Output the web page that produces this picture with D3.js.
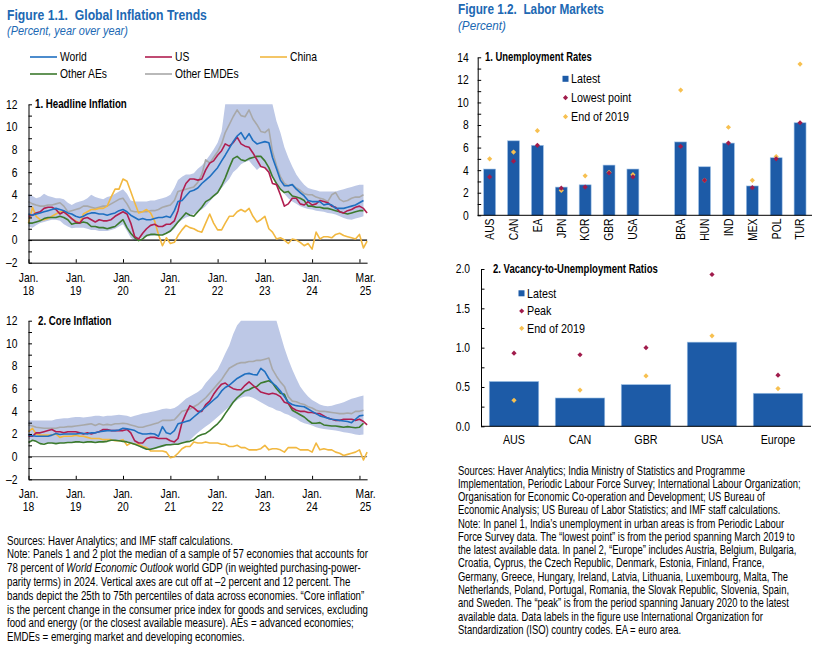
<!DOCTYPE html>
<html>
<head>
<meta charset="utf-8">
<script src="https://cdn.jsdelivr.net/npm/d3@7"></script>
<style>
  body { margin: 0; background: #fff; }
  svg { font-family: "Liberation Sans Narrow", "Arial Narrow", "Liberation Sans", Arial, sans-serif; }
</style>
</head>
<body>
<svg width="825" height="651"></svg>
<script>
// ---------- data: Figure 1.1 (monthly, Jan 2018 - Mar 2025) ----------
var months = d3.timeMonth.range(new Date(2018, 0, 1), new Date(2025, 3, 1));

var headWorld = [2.3,2.2,2.3,2.4,2.5,2.6,2.7,2.8,2.7,2.6,2.4,2.3,
                 2.1,2.0,2.1,2.3,2.4,2.4,2.3,2.3,2.2,2.3,2.4,2.6,
                 2.7,2.5,2.2,2.0,1.8,1.9,1.8,1.8,1.9,2.0,2.0,2.1,
                 2.0,2.6,3.4,3.5,3.9,4.3,4.4,4.6,5.0,5.3,5.6,6.0,
                 6.4,7.0,7.5,8.1,8.7,9.2,9.5,8.9,9.4,8.8,8.5,8.6,
                 8.7,8.6,7.3,6.3,5.3,4.8,4.8,4.9,4.5,4.2,3.9,3.5,
                 3.4,3.4,3.4,3.1,3.2,3.1,2.8,2.8,2.8,2.9,3.0,3.1,
                 3.3,3.5];
var headUS = [2.1,2.2,2.4,2.5,2.8,2.9,2.9,2.7,2.3,2.5,2.2,1.9,
              1.6,1.5,1.9,2.0,1.8,1.6,1.8,1.7,1.7,1.8,2.1,2.3,
              2.5,2.3,1.5,0.3,0.1,0.6,1.0,1.3,1.4,1.2,1.2,1.4,
              1.4,1.7,2.6,4.2,5.0,5.4,5.4,5.3,5.4,6.2,6.8,7.0,
              7.5,7.9,8.5,8.3,8.6,9.1,8.5,8.3,8.2,7.7,7.1,6.5,
              6.4,6.0,5.0,4.9,4.0,3.0,3.2,3.7,3.7,3.2,3.1,3.4,
              3.1,3.2,3.5,3.4,3.3,3.0,2.9,2.5,2.4,2.6,2.7,2.9,
              3.0,2.8,2.4];
var headChina = [1.5,2.9,2.1,1.8,1.8,1.9,2.1,2.3,2.5,2.5,2.2,1.9,
                 1.7,1.5,2.3,2.5,2.7,2.7,2.8,2.8,3.0,3.8,4.5,4.5,
                 5.4,5.2,4.3,3.3,2.4,2.5,2.7,2.4,1.7,0.5,-0.5,0.2,
                 -0.3,-0.2,0.4,0.9,1.3,1.1,1.0,0.8,0.7,1.5,2.3,1.5,
                 0.9,0.9,1.5,2.1,2.1,2.5,2.7,2.5,2.8,2.1,1.6,1.8,
                 2.1,1.0,0.7,0.1,0.2,0.0,-0.3,0.1,0.0,-0.2,-0.5,-0.3,
                 -0.8,0.7,0.1,0.3,0.3,0.2,0.5,0.6,0.4,0.3,0.2,0.1,
                 0.5,-0.7,-0.1];
var headAEs = [1.5,1.5,1.6,1.7,1.9,2.0,2.0,2.0,2.1,2.0,1.8,1.4,
               1.5,1.5,1.6,1.5,1.2,1.2,1.1,1.1,1.0,1.1,1.2,1.5,
               1.8,1.1,0.6,0.2,-0.05,0.1,0.4,0.5,0.5,0.45,0.45,0.6,
               0.8,1.2,1.6,2.0,2.4,2.2,2.1,2.5,2.9,3.4,3.6,3.9,
               4.2,4.8,5.5,6.4,7.2,7.4,7.1,7.0,7.2,7.3,7.4,7.4,
               7.0,6.4,5.6,5.0,4.5,4.2,4.3,3.9,3.8,3.7,3.5,3.0,
               3.0,2.9,2.9,2.8,2.8,2.7,2.6,2.5,2.4,2.3,2.4,2.5,
               2.6,2.6];
var headEMDEs = [3.4,3.2,3.1,3.0,3.0,3.1,3.1,3.2,3.3,3.0,2.5,2.6,
                 2.7,2.8,3.0,3.0,2.9,2.8,2.9,3.0,3.0,3.2,3.4,3.6,
                 3.7,3.2,2.6,2.5,2.5,2.5,2.5,2.6,2.6,2.7,2.9,3.0,
                 3.1,3.5,4.3,4.4,4.5,4.6,4.7,5.1,5.8,7.1,6.8,7.3,
                 7.8,8.5,9.5,10.2,10.9,11.5,11.0,10.9,11.5,10.7,10.2,9.6,
                 9.5,9.8,7.8,6.6,5.6,5.0,4.8,4.9,4.6,4.4,4.1,4.0,
                 4.0,3.8,3.7,3.6,3.4,4.0,4.2,3.6,3.4,3.5,3.7,3.8,
                 3.8,4.0];
var headLow = [1.2,1.1,1.3,1.5,1.6,1.7,1.8,1.8,1.7,1.4,1.2,1.05,
               1.1,1.1,1.1,1.0,0.9,0.9,0.8,0.8,0.8,0.9,1.0,1.2,
               1.4,0.8,0.2,-0.05,0.05,0.25,0.3,0.35,0.4,0.45,0.5,0.6,
               0.7,1.0,1.5,1.8,2.0,2.1,2.3,2.5,2.7,3.0,3.4,3.8,
               4.1,4.6,5.0,5.4,6.0,6.3,6.7,6.9,7.0,6.6,6.2,6.5,
               6.4,6.0,5.5,5.0,4.5,4.1,3.7,3.4,3.2,3.0,2.85,2.75,
               2.7,2.6,2.55,2.5,2.4,2.35,2.25,2.1,1.95,1.85,1.8,1.9,
               2.0,2.1];
var headHigh = [4.1,3.9,3.7,3.8,4.1,3.9,3.8,3.7,3.7,3.6,3.3,3.1,
                3.3,3.4,3.5,3.7,4.0,3.8,3.7,3.6,3.8,3.9,4.1,4.3,
                4.5,4.1,3.5,3.4,3.4,3.4,3.4,3.5,3.5,3.6,3.7,3.8,
                4.0,4.6,5.3,5.6,5.8,5.8,5.9,6.3,6.6,7.0,7.5,8.0,
                8.6,9.6,12,12,12,12,12,12,12,12,12,12,
                12,12,12,10.5,9.5,8.2,7.3,6.5,5.8,5.3,4.9,4.6,
                4.5,4.4,4.3,4.3,4.3,4.3,4.3,4.4,4.5,4.6,4.7,4.8,
                4.9,4.9];

var coreWorld = [1.9,1.85,1.8,1.8,1.8,1.8,1.9,2.05,1.95,2.0,2.0,2.0,
                 2.0,2.05,2.05,2.0,2.1,2.1,2.2,2.25,2.3,2.3,2.3,2.35,
                 2.5,2.45,2.4,2.3,2.1,2.0,2.0,2.05,2.0,1.8,2.65,2.1,
                 2.0,2.3,2.9,3.0,3.1,3.2,3.5,3.8,4.1,4.4,4.7,5.0,
                 5.3,5.8,6.1,6.3,6.6,6.9,7.1,7.3,7.35,7.25,7.2,7.8,
                 7.5,6.9,6.5,6.2,5.8,5.3,4.8,4.6,4.5,4.45,4.4,4.2,
                 4.0,3.8,3.6,3.5,3.4,3.3,3.25,3.2,3.15,3.1,3.0,3.3,
                 3.6,3.65];
var coreUS = [1.8,1.8,2.1,2.1,2.2,2.3,2.4,2.2,2.2,2.1,2.2,2.2,
              2.2,2.1,2.0,2.1,2.0,2.1,2.2,2.4,2.4,2.3,2.3,2.3,
              2.3,2.4,2.1,1.4,1.2,1.2,1.6,1.7,1.7,1.6,1.6,1.6,
              1.4,1.3,1.6,3.0,3.8,4.5,4.3,4.0,4.0,4.6,4.9,5.5,
              6.0,6.4,6.5,6.2,6.0,5.9,5.9,6.3,6.6,6.3,6.0,5.7,
              5.6,5.5,5.6,5.5,5.3,4.8,4.7,4.3,4.1,4.0,4.0,3.9,
              3.9,3.8,3.8,3.6,3.4,3.3,3.2,3.2,3.3,3.3,3.3,3.2,
              3.3,3.1,2.8];
var coreChina = [2.2,2.5,2.0,1.9,1.9,1.9,1.9,2.0,1.7,1.8,1.8,1.8,
                 1.9,1.8,1.8,1.7,1.6,1.6,1.6,1.5,1.5,1.5,1.4,1.4,
                 1.5,1.0,1.2,1.1,1.1,0.9,0.8,0.5,0.5,0.5,0.5,0.4,
                 -0.1,0.0,0.3,0.7,0.9,0.9,1.3,1.2,1.2,1.3,1.2,1.2,
                 1.2,1.1,1.1,0.9,0.9,1.0,0.8,0.8,0.6,0.6,0.6,0.7,
                 1.0,0.6,0.7,0.7,0.6,0.4,0.8,0.8,0.8,0.6,0.6,0.6,
                 0.4,1.2,0.6,0.7,0.6,0.6,0.4,0.3,0.1,0.2,0.3,0.4,
                 0.6,-0.3,0.4];
var coreAEs = [1.25,1.45,1.35,1.15,1.1,1.2,1.2,1.15,1.2,1.2,1.25,1.25,
               1.3,1.3,1.25,1.3,1.3,1.25,1.3,1.3,1.35,1.45,1.45,1.4,
               1.35,1.3,1.2,1.1,0.95,0.8,0.65,0.65,0.75,0.85,0.95,1.05,
               1.05,1.1,1.1,1.2,1.3,1.35,1.5,1.8,1.95,2.05,2.3,2.6,
               2.9,3.3,3.8,4.3,4.8,5.2,5.5,5.8,5.9,6.1,6.2,6.5,
               6.6,6.7,6.5,6.0,5.6,5.5,4.7,4.1,3.9,3.7,3.5,3.2,
               2.95,2.95,3.0,2.8,2.75,2.7,2.7,2.65,2.6,2.65,2.6,2.55,
               2.6,2.95];
var coreEMDEs = [2.8,2.7,2.6,2.55,2.5,2.5,2.5,2.5,2.6,2.6,2.65,2.65,
                 2.7,2.75,2.8,2.85,2.9,2.75,2.9,2.8,2.85,2.8,2.9,2.9,
                 2.95,2.9,2.8,2.7,2.6,2.6,2.7,2.8,2.9,3.0,3.2,3.2,
                 3.2,3.25,3.6,4.0,4.1,4.2,4.4,4.6,4.9,5.2,5.6,6.0,
                 6.4,6.8,7.3,7.8,8.0,8.2,8.3,8.3,8.4,8.4,8.5,8.5,
                 8.6,8.7,7.7,7.1,6.6,6.2,5.3,4.9,4.85,4.7,4.6,4.4,
                 4.3,4.1,4.0,4.0,3.95,3.9,3.85,3.8,3.8,3.85,3.8,4.0,
                 4.0,4.1];
var coreLow = [1.6,1.4,1.3,1.2,1.2,1.15,1.2,1.2,1.2,1.2,1.2,1.2,
               1.25,1.25,1.3,1.3,1.3,1.3,1.3,1.35,1.35,1.4,1.45,1.4,
               1.4,1.35,1.25,1.1,0.9,0.7,0.6,0.6,0.65,0.75,0.85,0.95,
               1.0,1.05,1.1,1.2,1.3,1.45,1.8,2.1,2.4,2.65,2.9,3.2,
               3.5,3.8,4.1,4.4,4.7,5.0,5.2,5.3,5.3,5.2,5.0,4.8,
               4.6,4.4,4.3,4.1,4.0,3.8,3.7,3.5,3.35,3.1,2.95,2.85,
               2.75,2.6,2.5,2.45,2.4,2.35,2.3,2.25,2.15,2.1,2.05,1.95,
               1.9,1.95];
var coreHigh = [3.2,3.2,3.2,3.2,3.2,3.2,3.2,3.3,3.35,3.4,3.4,3.45,
                3.5,3.5,3.45,3.5,3.55,3.6,3.6,3.55,3.6,3.6,3.65,3.7,
                3.65,3.6,3.5,3.6,3.7,3.8,3.85,3.95,4.0,4.1,4.2,4.25,
                4.2,4.3,4.5,4.8,5.1,5.3,5.5,5.7,6.0,6.5,6.9,7.3,
                7.7,8.4,9.1,9.8,10.8,11.6,12,12,12,12,12,12,
                12,12,12,12,10.8,9.6,8.6,7.7,6.9,6.2,5.7,5.3,
                5.0,4.8,4.6,4.5,4.45,4.5,4.6,4.7,4.8,4.95,5.1,5.2,
                5.3,5.4];

var seriesNames  = ["World", "US", "China", "Other AEs", "Other EMDEs"];
var seriesColors = ["#1f6fc0", "#b01e50", "#f2b840", "#3c7a2e", "#a8a8a8"];

var xTickDates  = d3.range(2018, 2026).map(function(yr) { return new Date(yr, 0, 1); });
var xLabelDates = d3.range(2018, 2025).map(function(yr) { return new Date(yr, 0, 1); }).concat([new Date(2025, 2, 1)]);
var xLabelTop   = ["Jan.", "Jan.", "Jan.", "Jan.", "Jan.", "Jan.", "Jan.", "Mar."];
var xLabelBot   = ["18", "19", "20", "21", "22", "23", "24", "25"];

// ---------- data: Figure 1.2 ----------
var unempAdvanced = ["AUS", "CAN", "EA", "JPN", "KOR", "GBR", "USA"];
var unempEmerging = ["BRA", "HUN", "IND", "MEX", "POL", "TUR"];
var unempLatest = [4.1, 6.6, 6.2, 2.5, 2.7, 4.45, 4.1, 6.5, 4.3, 6.4, 2.6, 5.1, 8.2];
var unempLowest = [3.4, 4.8, 6.2, 2.4, 2.5, 3.75, 3.4, 6.1, 3.1, 6.4, 2.45, 5.0, 8.2];
var unempEnd2019 = [5.0, 5.6, 7.5, 2.2, 3.5, 3.8, 3.6, 11.1, 3.1, 7.8, 3.1, 5.2, 13.4];

var vuCountries = ["AUS", "CAN", "GBR", "USA", "Europe"];
var vuLatest  = [0.57, 0.36, 0.53, 1.07, 0.42];
var vuPeak    = [0.93, 0.91, 1.0, 1.93, 0.65];
var vuEnd2019 = [0.33, 0.46, 0.64, 1.15, 0.48];

var titleBlue = "#2068b3";
var barBlue = "#1d5ba7";
var peakRed = "#a01c4c";
var gold = "#f7c050";
var bandFill = "#bdc8e6";
var narrow = 0.86;   // no condensed font installed, so squeeze the regular one

var svg = d3.select("svg");
var dash = function(v) { return String(v).replace("-", "\u2013"); };

// squeeze a text horizontally around its own x
function squeeze(node, s) {
  var x0 = +node.getAttribute("x") || 0;
  node.setAttribute("transform", "translate(" + x0 + ",0) scale(" + s + ",1) translate(" + (-x0) + ",0)");
  node.classList.add("fitted");
}
function fit(sel, target) {
  squeeze(sel.node(), target / sel.node().getComputedTextLength());
  return sel;
}

// ---------- titles ----------
fit(svg.append("text").attr("x", 7).attr("y", 20)
  .attr("font-size", 14.5).attr("font-weight", "bold").attr("fill", titleBlue)
  .text("Figure 1.1.\u00a0\u00a0Global Inflation Trends"), 200);
fit(svg.append("text").attr("x", 7).attr("y", 35)
  .attr("font-size", 12.5).attr("font-style", "italic").attr("fill", titleBlue)
  .text("(Percent, year over year)"), 121);
fit(svg.append("text").attr("x", 458).attr("y", 14)
  .attr("font-size", 14.5).attr("font-weight", "bold").attr("fill", titleBlue)
  .text("Figure 1.2.\u00a0\u00a0Labor Markets"), 146);
fit(svg.append("text").attr("x", 458).attr("y", 30)
  .attr("font-size", 12.5).attr("font-style", "italic").attr("fill", titleBlue)
  .text("(Percent)"), 48);

// ---------- legend for figure 1.1 ----------
var legPos = [[30, 57], [145, 57], [260, 57], [30, 74], [145, 74]];
seriesNames.forEach(function(name, i) {
  var g = svg.append("g").attr("transform", "translate(" + legPos[i] + ")");
  g.append("line").attr("x1", 0).attr("x2", 27).attr("stroke", seriesColors[i]).attr("stroke-width", 1.6);
  g.append("text").attr("x", 30).attr("y", 4).attr("font-size", 12).text(name);
});

// ---------- inflation panels ----------
var x = d3.scaleTime()
  .domain([new Date(2018, 0, 1), new Date(2025, 2, 1)])
  .range([28.5, 367.1]);

function inflationPanel(yTop, yBot, title, titleX, titleW, low, high, world, us, china, aes, emdes, zeroColor) {
  var y = d3.scaleLinear().domain([-2, 12]).range([yBot, yTop]);
  var g = svg.append("g");

  var band = d3.area()
    .x(function(d, i) { return x(months[i]); })
    .y0(function(d, i) { return y(low[i]); })
    .y1(function(d) { return y(d); });
  g.append("path").datum(high).attr("d", band).attr("fill", bandFill);

  g.append("line").attr("x1", x.range()[0]).attr("x2", x.range()[1])
    .attr("y1", y(0)).attr("y2", y(0)).attr("stroke", zeroColor).attr("stroke-width", 1.3);

  var line = d3.line()
    .x(function(d, i) { return x(months[i]); })
    .y(function(d) { return y(d); });
  var order = [[emdes, 4], [china, 2], [aes, 3], [us, 1], [world, 0]];
  order.forEach(function(s) {
    g.append("path").datum(s[0]).attr("d", line).attr("fill", "none")
      .attr("stroke", seriesColors[s[1]]).attr("stroke-width", 1.6)
      .attr("stroke-linejoin", "round");
  });

  var yAxis = d3.axisLeft(y).tickValues(d3.range(-2, 13, 1))
    .tickFormat(function(d) { return d % 2 === 0 ? dash(d) : ""; })
    .tickSizeInner(-3.5).tickSizeOuter(0).tickPadding(11);
  var ya = g.append("g").attr("transform", "translate(" + x.range()[0] + ",0)").call(yAxis);
  ya.selectAll("text").attr("font-size", 12).attr("fill", "#000");
  ya.selectAll("line, path").attr("stroke", "#000");

  var xAxis = d3.axisBottom(x).tickValues(xTickDates).tickFormat("")
    .tickSizeInner(-3.5).tickSizeOuter(0);
  var xa = g.append("g").attr("transform", "translate(0," + yBot + ")").call(xAxis);
  xa.selectAll("line, path").attr("stroke", "#000");

  var lab = g.selectAll(".xl").data(xLabelDates).enter().append("text")
    .attr("text-anchor", "middle").attr("font-size", 12)
    .attr("x", function(d, i) { return x(d) - (i === 7 ? 1.5 : 0); });
  lab.append("tspan").attr("y", yBot + 19).text(function(d, i) { return xLabelTop[i]; });
  lab.append("tspan").attr("x", function(d, i) { return x(d) - (i === 7 ? 1.5 : 0); })
    .attr("y", yBot + 32).text(function(d, i) { return xLabelBot[i]; });

  fit(g.append("text").attr("x", titleX).attr("y", yTop + 4).attr("font-size", 12)
    .attr("font-weight", "bold").text(title), titleW);
}

inflationPanel(104.3, 262.7, "1. Headline Inflation", 35, 92, headLow, headHigh,
  headWorld, headUS, headChina, headAEs, headEMDEs, "#000");
inflationPanel(320.7, 479.3, "2. Core Inflation", 38, 73.5, coreLow, coreHigh,
  coreWorld, coreUS, coreChina, coreAEs, coreEMDEs, "#7f7f7f");

// ---------- diamond marker ----------
function diamond(r) { return "M0," + (-r) + "L" + r + ",0L0," + r + "L" + (-r) + ",0Z"; }

// ---------- panel 1: unemployment rates ----------
(function() {
  var cats = unempAdvanced.concat(["gap"], unempEmerging);
  var rows = unempAdvanced.concat(unempEmerging).map(function(c, i) {
    return { c: c, latest: unempLatest[i], low: unempLowest[i], e19: unempEnd2019[i] };
  });
  var xb = d3.scaleBand().domain(cats).range([477.7, 812]).paddingInner(0.5).paddingOuter(0.25);
  var y = d3.scaleLinear().domain([0, 14]).range([215.3, 57.3]);
  var g = svg.append("g");

  g.selectAll(".bar").data(rows).enter().append("rect")
    .attr("x", function(d) { return xb(d.c); }).attr("width", xb.bandwidth())
    .attr("y", function(d) { return y(d.latest); })
    .attr("height", function(d) { return y(0) - y(d.latest); })
    .attr("fill", barBlue).attr("stroke", "#9fc2e6").attr("stroke-width", 0.6);

  g.selectAll(".e19").data(rows).enter().append("path").attr("d", diamond(2.6))
    .attr("transform", function(d) { return "translate(" + (xb(d.c) + xb.bandwidth() / 2) + "," + y(d.e19) + ")"; })
    .attr("fill", gold);
  g.selectAll(".low").data(rows).enter().append("path").attr("d", diamond(2.6))
    .attr("transform", function(d) { return "translate(" + (xb(d.c) + xb.bandwidth() / 2) + "," + y(d.low) + ")"; })
    .attr("fill", peakRed);

  var yAxis = d3.axisLeft(y).tickValues(d3.range(0, 15, 1))
    .tickFormat(function(d) { return d % 2 === 0 ? d : ""; })
    .tickSizeInner(-3.5).tickSizeOuter(0).tickPadding(9);
  var ya = g.append("g").attr("transform", "translate(477.7,0)").call(yAxis);
  ya.selectAll("text").attr("font-size", 12).attr("fill", "#000");
  ya.selectAll("line, path").attr("stroke", "#000");

  g.append("line").attr("x1", 477.7).attr("x2", 812).attr("y1", y(0)).attr("y2", y(0)).attr("stroke", "#000");

  g.selectAll(".xl").data(rows).enter().append("text").attr("class", "rot")
    .attr("transform", function(d) {
      return "translate(" + (xb(d.c) + xb.bandwidth() / 2) + ",218.5) rotate(-90) scale(" + narrow + ",1)";
    })
    .attr("text-anchor", "end").attr("dy", "0.36em").attr("font-size", 12).text(function(d) { return d.c; });

  fit(g.append("text").attr("x", 485).attr("y", 61.5).attr("font-size", 12).attr("font-weight", "bold")
    .text("1. Unemployment Rates"), 107);

  g.append("rect").attr("x", 562.5).attr("y", 75.8).attr("width", 6).attr("height", 6).attr("fill", barBlue);
  g.append("path").attr("d", diamond(2.6)).attr("transform", "translate(565.5,97.7)").attr("fill", peakRed);
  g.append("path").attr("d", diamond(2.6)).attr("transform", "translate(565.5,116.7)").attr("fill", gold);
  [["Latest", 78.7], ["Lowest point", 97.7], ["End of 2019", 116.7]].forEach(function(t) {
    g.append("text").attr("x", 571).attr("y", t[1] + 4.3).attr("font-size", 12.5).text(t[0]);
  });
})();

// ---------- panel 2: vacancy-to-unemployment ratios ----------
(function() {
  var rows = vuCountries.map(function(c, i) {
    return { c: c, latest: vuLatest[i], peak: vuPeak[i], e19: vuEnd2019[i] };
  });
  var xb = d3.scaleBand().domain(vuCountries).range([481, 811]).paddingInner(0.25).paddingOuter(0.125);
  var y = d3.scaleLinear().domain([0, 2]).range([426.3, 269]);
  var g = svg.append("g");

  g.selectAll(".bar").data(rows).enter().append("rect")
    .attr("x", function(d) { return xb(d.c); }).attr("width", xb.bandwidth())
    .attr("y", function(d) { return y(d.latest); })
    .attr("height", function(d) { return y(0) - y(d.latest); })
    .attr("fill", barBlue).attr("stroke", "#9fc2e6").attr("stroke-width", 0.6);

  g.selectAll(".e19").data(rows).enter().append("path").attr("d", diamond(2.6))
    .attr("transform", function(d) { return "translate(" + (xb(d.c) + xb.bandwidth() / 2) + "," + y(d.e19) + ")"; })
    .attr("fill", gold);
  g.selectAll(".pk").data(rows).enter().append("path").attr("d", diamond(2.6))
    .attr("transform", function(d) { return "translate(" + (xb(d.c) + xb.bandwidth() / 2) + "," + y(d.peak) + ")"; })
    .attr("fill", peakRed);

  var yAxis = d3.axisLeft(y).tickValues(d3.range(0, 2.01, 0.25))
    .tickFormat(function(d) { return (d * 2) % 1 === 0 ? d3.format(".1f")(d) : ""; })
    .tickSizeInner(-3.5).tickSizeOuter(0).tickPadding(11);
  var ya = g.append("g").attr("transform", "translate(481,0)").call(yAxis);
  ya.selectAll("text").attr("font-size", 12).attr("fill", "#000");
  ya.selectAll("line, path").attr("stroke", "#000");

  g.append("line").attr("x1", 481).attr("x2", 811).attr("y1", y(0)).attr("y2", y(0)).attr("stroke", "#000");

  g.selectAll(".xl").data(rows).enter().append("text")
    .attr("x", function(d) { return xb(d.c) + xb.bandwidth() / 2; }).attr("y", 444)
    .attr("text-anchor", "middle").attr("font-size", 12.5).text(function(d) { return d.c; });

  fit(g.append("text").attr("x", 493).attr("y", 273).attr("font-size", 12).attr("font-weight", "bold")
    .text("2. Vacancy-to-Unemployment Ratios"), 165);

  g.append("rect").attr("x", 518.5).attr("y", 290.3).attr("width", 6).attr("height", 6).attr("fill", barBlue);
  g.append("path").attr("d", diamond(2.6)).attr("transform", "translate(521.7,311)").attr("fill", peakRed);
  g.append("path").attr("d", diamond(2.6)).attr("transform", "translate(521.7,328.3)").attr("fill", gold);
  [["Latest", 293.3], ["Peak", 311], ["End of 2019", 328.3]].forEach(function(t) {
    g.append("text").attr("x", 527).attr("y", t[1] + 4.3).attr("font-size", 12.5).text(t[0]);
  });
})();

// ---------- notes ----------
var leftNotes = [
  ["Sources: Haver Analytics; and IMF staff calculations."],
  ["Note: Panels 1 and 2 plot the median of a sample of 57 economies that accounts for"],
  ["78 percent of ", "World Economic Outlook", " world GDP (in weighted purchasing-power-"],
  ["parity terms) in 2024. Vertical axes are cut off at \u20132 percent and 12 percent. The"],
  ["bands depict the 25th to 75th percentiles of data across economies. \u201cCore inflation\u201d"],
  ["is the percent change in the consumer price index for goods and services, excluding"],
  ["food and energy (or the closest available measure). AEs = advanced economies;"],
  ["EMDEs = emerging market and developing economies."]
];
var rightNotes = [
  ["Sources: Haver Analytics; India Ministry of Statistics and Programme"],
  ["Implementation, Periodic Labour Force Survey; International Labour Organization;"],
  ["Organisation for Economic Co-operation and Development; US Bureau of"],
  ["Economic Analysis; US Bureau of Labor Statistics; and IMF staff calculations."],
  ["Note: In panel 1, India\u2019s unemployment in urban areas is from Periodic Labour"],
  ["Force Survey data. The \u201clowest point\u201d is from the period spanning March 2019 to"],
  ["the latest available data. In panel 2, \u201cEurope\u201d includes Austria, Belgium, Bulgaria,"],
  ["Croatia, Cyprus, the Czech Republic, Denmark, Estonia, Finland, France,"],
  ["Germany, Greece, Hungary, Ireland, Latvia, Lithuania, Luxembourg, Malta, The"],
  ["Netherlands, Poland, Portugal, Romania, the Slovak Republic, Slovenia, Spain,"],
  ["and Sweden. The \u201cpeak\u201d is from the period spanning January 2020 to the latest"],
  ["available data. Data labels in the figure use International Organization for"],
  ["Standardization (ISO) country codes. EA = euro area."]
];

// one shared squeeze per block, taken from the width of its second line
function notes(lines, x0, y0, step, refWidth) {
  var nodes = lines.map(function(parts, i) {
    var t = svg.append("text").attr("x", x0).attr("y", y0 + i * step).attr("font-size", 12.3);
    parts.forEach(function(p, j) {
      t.append("tspan").attr("font-style", j === 1 ? "italic" : null).text(p);
    });
    return t.node();
  });
  var s = refWidth / nodes[1].getComputedTextLength();
  nodes.forEach(function(n) { squeeze(n, s); });
}
notes(leftNotes, 7, 544.7, 13.8, 361);
notes(rightNotes, 458, 474.6, 13.27, 343);

// everything else gets the generic narrow squeeze
svg.selectAll("text").each(function() {
  if (!this.classList.contains("fitted") && !this.classList.contains("rot")) squeeze(this, narrow);
});
</script>
</body>
</html>
